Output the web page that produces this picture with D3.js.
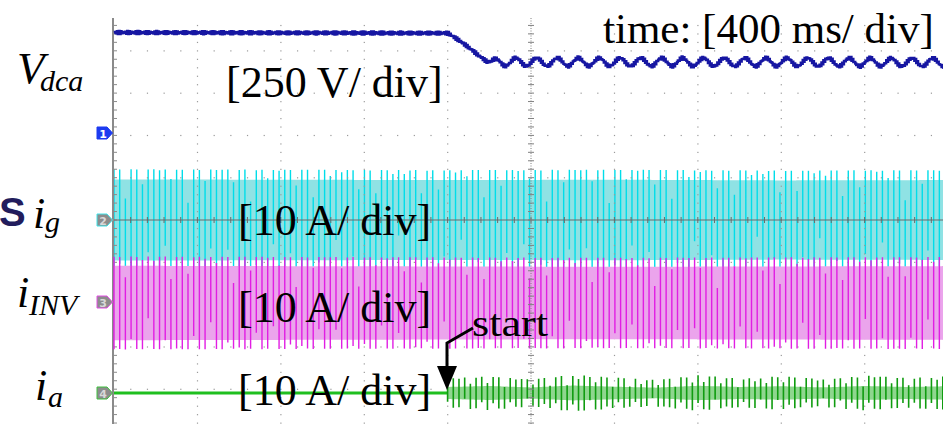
<!DOCTYPE html>
<html>
<head>
<meta charset="utf-8">
<script src="https://cdn.jsdelivr.net/npm/d3@7"></script>
<style>
  body { margin: 0; background: #fff; overflow: hidden; }
  text { font-family: "Liberation Serif", "Times New Roman", serif; fill: #000; }
</style>
</head>
<body>
<script>
// scope settings read from the capture
const timePerDiv = 0.4;          // s  (400 ms/div)
const divisions = [0, 1, 2, 3, 4, 5, 6, 7, 8, 9, 10];
const gridHz = 50;               // line frequency of the AC currents
const startTime = 1.6;           // s, "start" event

// V_dca : keypoints (s, V), 250 V/div
const vdcaT = [0, 1.60, 1.65, 1.70, 1.75, 1.80, 4.0];
const vdcaV = [594, 590, 550, 505, 455, 420, 418];
const vdcaRippleT = [0, 1.75, 1.85, 4.0];
const vdcaRippleV = [0, 0, 24, 24];
const vdcaRippleHz = 10;
const vdcaHumV = 9;              // 100 Hz hum on top

// current envelopes (peak A), 10 A/div
const igT = [0, 0.8, 1.6, 2.4, 3.2, 4.0];
const igA = [12.0, 11.9, 11.8, 11.9, 11.7, 11.8];
const invT = [0, 0.8, 1.6, 2.4, 3.2, 4.0];
const invA = [11.0, 10.9, 10.8, 10.7, 10.8, 10.9];
const iaT = [1.6, 1.8, 2.0, 2.2, 2.4, 2.6, 2.8, 3.0, 3.2, 3.4, 3.6, 3.8, 4.0];
const iaA = [2.6, 3.0, 2.4, 3.2, 2.7, 2.3, 3.1, 2.6, 2.9, 2.4, 3.0, 2.6, 2.9];
const iaH5 = [0.9, 1.1, 0.8, 1.2, 1.0, 0.9, 1.2, 0.8, 1.1, 0.9, 1.2, 1.0, 1.1];

const W = 943, H = 424;
const divPx = 42.3;

const svg = d3.select("body").append("svg")
  .attr("width", W)
  .attr("height", H);

const x = d3.scaleLinear().domain([0, timePerDiv * 10]).range([114, 948]);
const gx = d3.scaleLinear().domain([0, 10]).range([114, 948]);
const gy = d3.scaleLinear().domain([-4, 4]).range([389.2, 50.8]);

const chanY = function(groundY, perDiv) {
  return d3.scaleLinear().domain([0, perDiv]).range([groundY, groundY - divPx]);
};
const yV = chanY(133, 250);
const yG = chanY(220, 10);
const yInv = chanY(303, 10);
const yA = chanY(393, 10);

// ---- graticule ----
const grid = svg.append("g");
const dots = [];
divisions.slice(1).forEach(function(j) {
  if (j === 5) return;
  for (let k = -24; k <= 24; k++) {
    const yy = gy(k / 5);
    if (yy > 18 && yy < H) dots.push([gx(j), yy]);
  }
});
[-4, -3, -2, -1, 1, 2, 3, 4].forEach(function(k) {
  for (let j = 1; j <= 50; j++) {
    if (j % 5 === 0) continue;
    dots.push([gx(j / 5), gy(k)]);
  }
});
grid.selectAll("rect.dot")
  .data(dots)
  .enter().append("rect")
    .attr("class", "dot")
    .attr("x", d => d[0] - 0.5)
    .attr("y", d => d[1] - 0.5)
    .attr("width", 1.2)
    .attr("height", 1.2)
    .attr("fill", "#9a9a9a");

// left border with ticks
grid.append("line")
  .attr("x1", 113).attr("x2", 113).attr("y1", 18).attr("y2", H)
  .attr("stroke", "#8a8a8a").attr("stroke-width", 2);
const ticksY = d3.range(-24, 25).map(k => gy(k / 5)).filter(v => v > 20 && v < H);
grid.selectAll("line.lt")
  .data(ticksY)
  .enter().append("line")
    .attr("class", "lt")
    .attr("x1", 113).attr("x2", 117)
    .attr("y1", d => d).attr("y2", d => d)
    .attr("stroke", "#8a8a8a");

// ---- traces ----
const barDt = 0.0273;
const win = 0.6 / gridHz;

// peak-detect style columns: min/max of the signal around each column
const bars = function(sig, yScale, t0, t1) {
  let p = "";
  for (let t = t0; t <= t1 + 1e-9; t += barDt) {
    let lo = Infinity, hi = -Infinity;
    for (let k = 0; k <= 12; k++) {
      const v = sig(t + (k / 12 - 0.5) * win);
      lo = Math.min(lo, v); hi = Math.max(hi, v);
    }
    p += `M${x(t).toFixed(2)},${yScale(hi).toFixed(2)}V${yScale(lo).toFixed(2)}`;
  }
  return p;
};

const band = function(ampScale, yScale, t0, t1, frac) {
  const ts = d3.range(t0, t1 + 0.005, 0.01);
  return d3.area()
    .x(t => x(t))
    .y0(t => yScale(-frac * ampScale(t)))
    .y1(t => yScale(frac * ampScale(t)))
    .curve(d3.curveBasis)(ts);
};

const drawCurrent = function(ampScale, sig, yScale, t0, t1, pale, bright, frac, sw) {
  const g = svg.append("g");
  g.append("path").attr("d", band(ampScale, yScale, t0, t1, frac)).attr("fill", pale);
  g.append("path").attr("d", bars(sig, yScale, t0, t1))
    .attr("stroke", bright).attr("stroke-width", sw).attr("fill", "none");
};

const igScale = d3.scaleLinear().domain(igT).range(igA);
const invScale = d3.scaleLinear().domain(invT).range(invA);
const iaScale = d3.scaleLinear().domain(iaT).range(iaA).clamp(true);
const iaH5Scale = d3.scaleLinear().domain(iaT).range(iaH5).clamp(true);

const w = 2 * Math.PI * gridHz;
const igSig = t => igScale(t) * Math.sin(w * t);
const invSig = t => invScale(t) * Math.sin(w * t + 0.4);
const iaSig = t => iaScale(t) * Math.sin(w * t + 1.1) + iaH5Scale(t) * Math.sin(5 * w * t);

drawCurrent(igScale, igSig, yG, 0, 4.02, "#8fe2e4", "#00dde9", 0.8, 1.4);

// centre horizontal axis (visible through ch2)
grid.raise();
svg.append("line")
  .attr("x1", 114).attr("x2", W).attr("y1", 220).attr("y2", 220)
  .attr("stroke", "#6a6a6a").attr("stroke-width", 1);
svg.selectAll("line.ht")
  .data(d3.range(1, 50).map(j => gx(j / 5)))
  .enter().append("line")
    .attr("class", "ht")
    .attr("x1", d => d).attr("x2", d => d)
    .attr("y1", 217).attr("y2", 223)
    .attr("stroke", "#6a6a6a");

drawCurrent(invScale, invSig, yInv, 0, 4.02, "#eba4ec", "#e11ee3", 0.8, 1.4);

// i_a : flat before start, ripple after
svg.append("path")
  .attr("d", d3.line().x(t => x(t)).y(() => yA(0))([0, startTime]))
  .attr("stroke", "#1fbf1f").attr("stroke-width", 3.2).attr("fill", "none");
drawCurrent(iaScale, iaSig, yA, startTime, 4.02, "#8fd68f", "#109c10", 0.55, 1.6);

// centre vertical axis
svg.append("line")
  .attr("x1", gx(5)).attr("x2", gx(5)).attr("y1", 18).attr("y2", H)
  .attr("stroke", "#808080").attr("stroke-dasharray", "1,1.5");
svg.selectAll("line.vt")
  .data(ticksY)
  .enter().append("line")
    .attr("class", "vt")
    .attr("x1", gx(5) - 3).attr("x2", gx(5) + 3)
    .attr("y1", d => d).attr("y2", d => d)
    .attr("stroke", "#808080");

// V_dca
const vLevel = d3.scaleLinear().domain(vdcaT).range(vdcaV);
const vRip = d3.scaleLinear().domain(vdcaRippleT).range(vdcaRippleV);
const vts = d3.range(0, 4.02, 0.0045);
svg.append("path")
  .attr("d", d3.line()
    .x(t => x(t))
    .y(t => yV(vLevel(t) + vRip(t) * Math.sin(2 * Math.PI * vdcaRippleHz * t)
                 + vdcaHumV * Math.sin(2 * Math.PI * 2 * gridHz * t)))
    .curve(d3.curveStepAfter)(vts))
  .attr("stroke", "#1616a2").attr("stroke-width", 2.4).attr("fill", "none");

// ---- channel markers ----
const markers = [
  {n: "1", y: 133, fill: "#1d3bf0", edge: "#1d3bf0", txt: "#fff"},
  {n: "2", y: 220, fill: "#8c8c8c", edge: "#3fe3e8", txt: "#d8d8d8"},
  {n: "3", y: 302, fill: "#8c8c8c", edge: "#e14fe3", txt: "#d8d8d8"},
  {n: "4", y: 393, fill: "#8c8c8c", edge: "#3fc03f", txt: "#d8d8d8"}
];
const mk = svg.selectAll("g.mk").data(markers).enter().append("g").attr("class", "mk");
mk.append("path")
  .attr("d", d => `M97,${d.y - 6}H107L112.5,${d.y}L107,${d.y + 6}H97Z`)
  .attr("fill", d => d.fill).attr("stroke", d => d.edge).attr("stroke-width", 1);
mk.append("text")
  .attr("x", 103).attr("y", d => d.y + 4.5)
  .attr("text-anchor", "middle")
  .style("font-family", "'DejaVu Sans', sans-serif")
  .style("font-size", "11px").style("font-weight", "bold")
  .style("fill", d => d.txt)
  .text(d => d.n);

// ---- labels ----
const lab = function(t, xx, yy, size, italic) {
  return svg.append("text")
    .attr("x", xx).attr("y", yy)
    .style("font-size", size + "px")
    .style("font-style", italic ? "italic" : "normal")
    .text(t);
};
lab("V", 17, 83, 45, true);
lab("dca", 40, 91, 30, true);
lab("i", 33, 228, 44, true);
lab("g", 45, 232, 30, true);
lab("i", 17, 307, 44, true);
lab("INV", 29, 315, 30, true);
lab("i", 35, 400, 44, true);
lab("a", 48, 407, 30, true);

svg.append("text")
  .attr("x", -1).attr("y", 226)
  .style("font-family", "'Liberation Sans', Arial, sans-serif")
  .style("font-size", "40px")
  .style("font-weight", "bold")
  .style("fill", "#221c5c")
  .text("S");

lab("[250 V/ div]", 226, 97, 44, false);
lab("time: [400 ms/ div]", 603, 43, 43, false);
lab("[10 A/ div]", 238, 235, 44, false);
lab("[10 A/ div]", 238, 322, 44, false);
lab("[10 A/ div]", 238, 405, 44, false);
lab("start", 472, 336, 38, false)
  .attr("textLength", 76).attr("lengthAdjust", "spacingAndGlyphs");

// start arrow
svg.append("path")
  .attr("d", "M473,328L447,343V368")
  .attr("stroke", "#000").attr("stroke-width", 3).attr("fill", "none");
svg.append("path")
  .attr("d", "M437,366L457,366L447,390Z")
  .attr("fill", "#000");
</script>
</body>
</html>
